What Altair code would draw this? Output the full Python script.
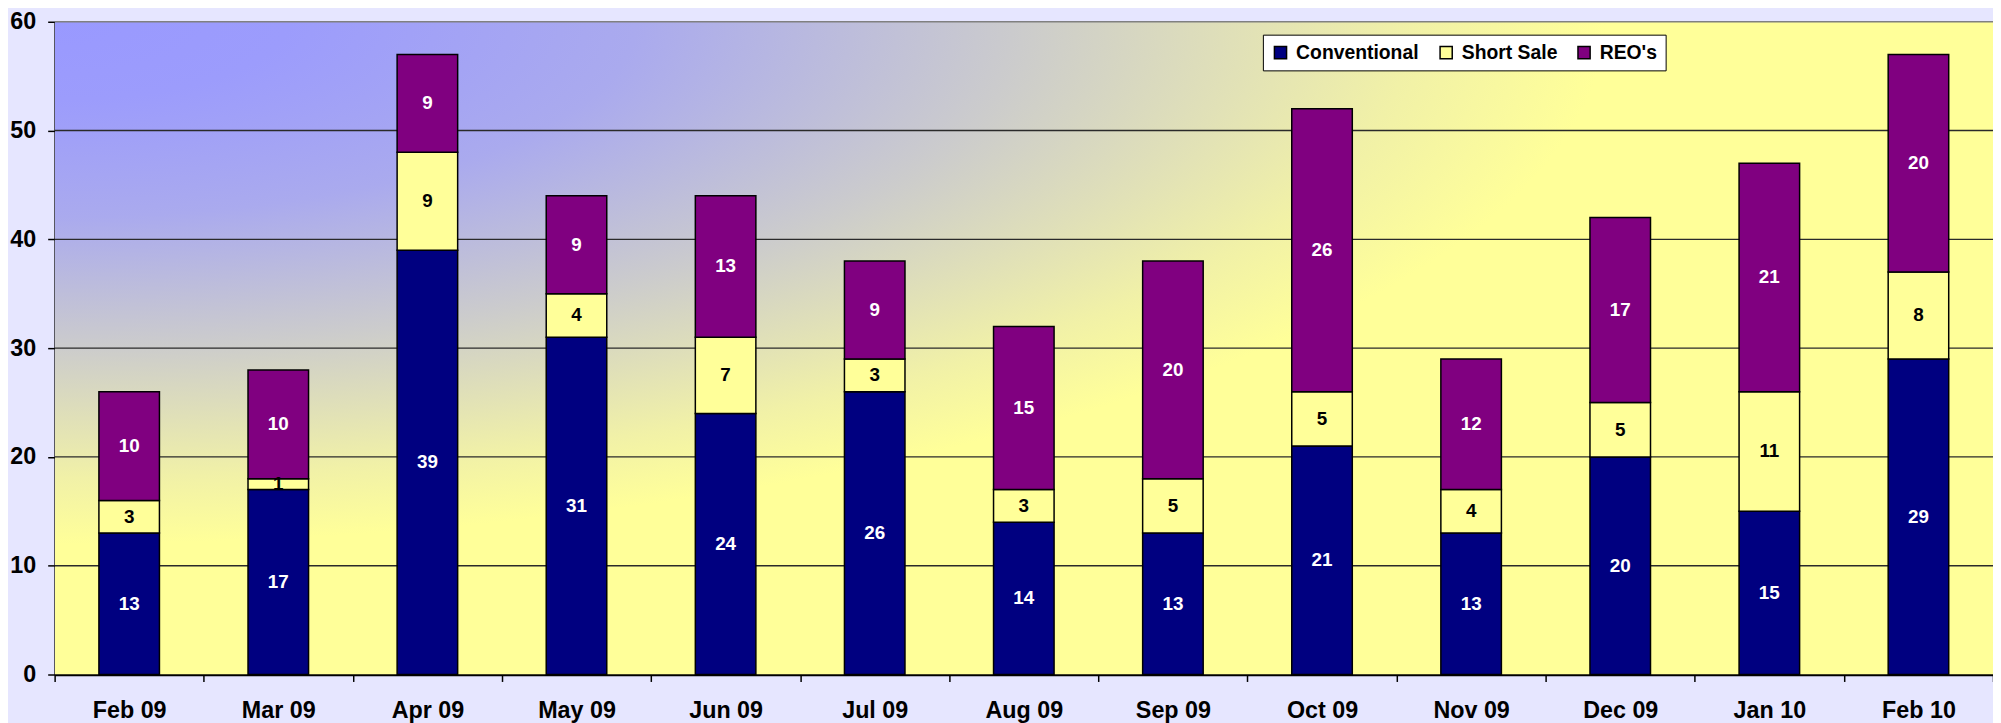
import altair as alt
import pandas as pd
from urllib.parse import quote

months = ["Feb 09", "Mar 09", "Apr 09", "May 09", "Jun 09", "Jul 09", "Aug 09",
          "Sep 09", "Oct 09", "Nov 09", "Dec 09", "Jan 10", "Feb 10"]
conventional = [13, 17, 39, 31, 24, 26, 14, 13, 21, 13, 20, 15, 29]
short_sale = [3, 1, 9, 4, 7, 3, 3, 5, 5, 4, 5, 11, 8]
reos = [10, 10, 9, 9, 13, 9, 15, 20, 26, 12, 17, 21, 20]
series_names = ["Conventional", "Short Sale", "REO's"]
series_colors = ["#000080", "#FFFF99", "#800080"]
y_ticks = [0, 10, 20, 30, 40, 50, 60]
grid_values = [10, 20, 30, 40, 50, 60]

rows = []
for i, m in enumerate(months):
    for j, (name, vals) in enumerate(zip(series_names, [conventional, short_sale, reos])):
        rows.append({"month": m, "series": name, "idx": j, "value": vals[i]})
df = pd.DataFrame(rows)

W = 1954
H = 658
FONT = "Liberation Sans"

# elliptical background gradient of the plot area (blue top-left -> yellow)
stops = [(0.0, "#9999FF"), (0.12, "#9C9CFC"), (0.3, "#AAAAEE"), (0.5, "#CCCCCC"),
         (0.7, "#F1F1A7"), (0.8, "#FFFF99"), (1.0, "#FFFF99")]
stop_tags = "".join(f'<stop offset="{o}" stop-color="{c}"/>' for o, c in stops)
bg_svg = (f'<svg xmlns="http://www.w3.org/2000/svg" width="{W}" height="{H}" '
          f'viewBox="0 0 {W} {H}" preserveAspectRatio="none"><defs>'
          f'<radialGradient id="g" cx="0" cy="0" r="1" gradientUnits="objectBoundingBox">'
          f'{stop_tags}</radialGradient></defs>'
          f'<rect x="0" y="0" width="{W}" height="{H}" fill="url(#g)"/></svg>')
bg_uri = "data:image/svg+xml;charset=utf-8," + quote(bg_svg)

y_scale = alt.Scale(domain=[0, 60], nice=False, zero=True)
x_scale = alt.Scale(domain=months, paddingInner=0, paddingOuter=0)

y_axis = alt.Axis(values=y_ticks, title=None, labelFont=FONT, labelFontSize=23.5,
                  labelFontWeight="bold", labelColor="black", labelPadding=12,
                  tickSize=7, tickColor="black", tickWidth=1.5,
                  domainColor="black", domainWidth=1.5, grid=False)

x_enc = alt.X(
    "month:N", sort=months, scale=x_scale, title=None,
    axis=alt.Axis(title=None, labelFont=FONT, labelFontSize=23.5, labelFontWeight="bold",
                  labelColor="black", labelPadding=17, labelAngle=0, tickSize=7,
                  tickColor="black", tickWidth=1.5, tickBand="extent",
                  domainColor="black", domainWidth=2.5, grid=False),
)

bg = alt.Chart(pd.DataFrame({"k": [0]})).mark_image(
    width=W, height=H, aspect=False, align="left", baseline="top"
).encode(x=alt.value(0), y=alt.value(0), url=alt.value(bg_uri))

rules = alt.Chart(pd.DataFrame({"v": grid_values})).mark_rule(strokeWidth=1.4).encode(
    y=alt.Y("v:Q", scale=y_scale, axis=y_axis, title=None),
    color=alt.condition("datum.v == 60", alt.value("#808080"), alt.value("#2a2a2a")),
)

base = alt.Chart(df).transform_stack(
    stack="value", groupby=["month"], as_=["y0", "y1"],
    sort=[alt.SortField(field="idx", order="ascending")],
).transform_calculate(mid="(datum.y0 + datum.y1) / 2")

bars = base.mark_bar(width=alt.RelativeBandSize(0.406), stroke="black", strokeWidth=1.5).encode(
    x=x_enc,
    y=alt.Y("y0:Q", scale=y_scale, title=None, axis=y_axis),
    y2="y1:Q",
    color=alt.Color("series:N", scale=alt.Scale(domain=series_names, range=series_colors),
                    legend=alt.Legend(orient="none", legendX=1218, legendY=13,
                                      direction="horizontal", title=None,
                                      fillColor="white", strokeColor="black", padding=8,
                                      symbolType="square", symbolSize=150,
                                      symbolStrokeColor="black", symbolStrokeWidth=1.5,
                                      symbolOpacity=1,
                                      labelFont=FONT, labelFontSize=19.5, labelFontWeight="bold",
                                      labelColor="black", labelOffset=6, columnPadding=17)),
)

text_white = base.transform_filter("datum.series != 'Short Sale'").mark_text(
    font=FONT, fontSize=19, fontWeight="bold", baseline="middle", align="center", color="white"
).encode(x=x_enc, y=alt.Y("mid:Q", scale=y_scale, axis=y_axis, title=None), text="value:Q")

text_black = base.transform_filter("datum.series == 'Short Sale'").mark_text(
    font=FONT, fontSize=19, fontWeight="bold", baseline="middle", align="center", color="black"
).encode(x=x_enc, y=alt.Y("mid:Q", scale=y_scale, axis=y_axis, title=None), text="value:Q")

chart = alt.layer(bg, rules, bars, text_white, text_black).properties(
    width=W, height=H,
    padding={"left": 47, "top": 11, "right": 0, "bottom": 46},
    autosize=alt.AutoSizeParams(type="none"),
).configure(background="#E6E6FF").configure_view(stroke=None)

chart.save("out.html", embed_options={"renderer": "svg", "actions": False})
